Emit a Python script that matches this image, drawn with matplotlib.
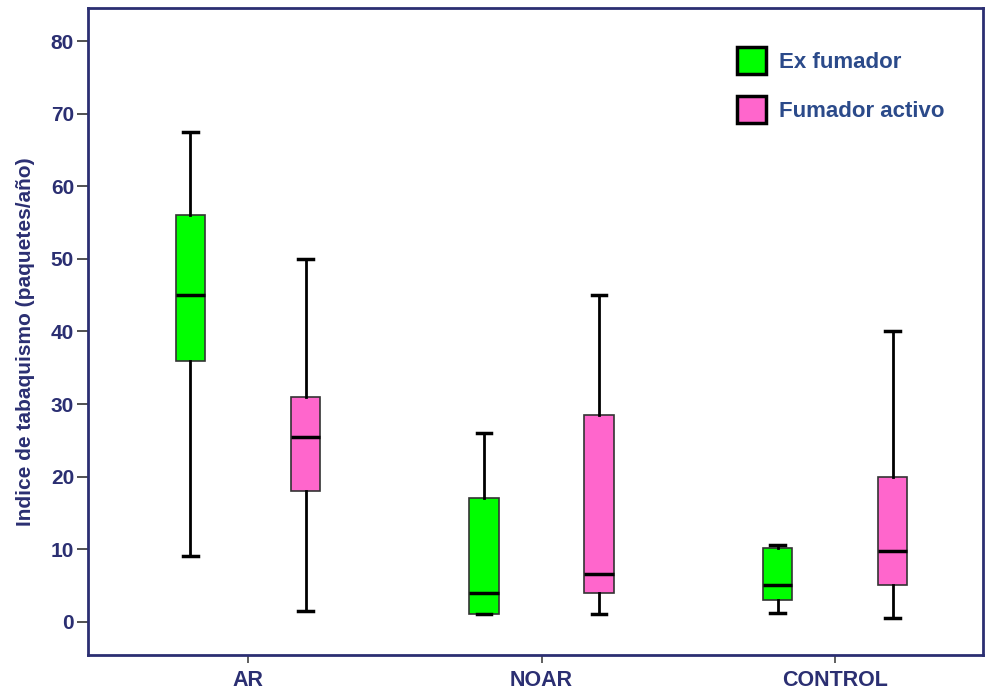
import matplotlib
matplotlib.use("Agg")
import matplotlib.pyplot as plt
from matplotlib.patches import Patch

categories = ["AR", "NOAR", "CONTROL"]
series = ["Ex fumador", "Fumador activo"]
# per category: whislo, q1, med, q3, whishi
ex_whislo = [9.0, 1.0, 1.2]
ex_q1 = [36.0, 1.0, 3.0]
ex_med = [45.0, 4.0, 5.0]
ex_q3 = [56.0, 17.0, 10.2]
ex_whishi = [67.5, 26.0, 10.5]

fa_whislo = [1.5, 1.0, 0.5]
fa_q1 = [18.0, 4.0, 5.0]
fa_med = [25.5, 6.5, 9.8]
fa_q3 = [31.0, 28.5, 20.0]
fa_whishi = [50.0, 45.0, 40.0]

yticks = [0, 10, 20, 30, 40, 50, 60, 70, 80]

navy = "#2B2F72"
colors = ["#00FF00", "#FF66CC"]

plt.rcParams['font.family'] = ['Liberation Sans', 'DejaVu Sans']
plt.rcParams['font.weight'] = 'bold'

fig = plt.figure(figsize=(9.85, 6.91), dpi=100)
ax = fig.add_axes([88/985, 36/691, (983-88)/985, (655-8)/691])

def stats(lo, q1, med, q3, hi):
    return [dict(whislo=a, q1=b, med=c, q3=d, whishi=e, fliers=[])
            for a, b, c, d, e in zip(lo, q1, med, q3, hi)]

offset = 0.196
width = 0.101
for i, (st, col) in enumerate([(stats(ex_whislo, ex_q1, ex_med, ex_q3, ex_whishi), colors[0]),
                               (stats(fa_whislo, fa_q1, fa_med, fa_q3, fa_whishi), colors[1])]):
    pos = [k + (-offset if i == 0 else offset) for k in range(len(categories))]
    ax.bxp(st, positions=pos, widths=width, patch_artist=True, showfliers=False,
           boxprops=dict(facecolor=col, edgecolor="#333333", linewidth=1.2),
           whiskerprops=dict(color="black", linewidth=2),
           capprops=dict(color="black", linewidth=2.5),
           medianprops=dict(color="black", linewidth=2.5),
           capwidths=width * 0.5, manage_ticks=False)

ax.set_xlim(-0.545, 2.504)
ax.set_ylim(-4.6, 84.6)
ax.set_yticks(yticks)
ax.set_yticklabels([str(v) for v in yticks], fontsize=15, color=navy, fontweight='bold')
ax.set_xticks(range(len(categories)))
ax.set_xticklabels(categories, fontsize=15.5, color=navy, fontweight='bold')
ax.tick_params(axis='y', length=8, width=1.2, color="#333333", direction='out', pad=2)
ax.tick_params(axis='x', length=6, width=1.2, color="#444444", direction='out', pad=5)
for s in ax.spines.values():
    s.set_color(navy)
    s.set_linewidth(2)
ax.set_ylabel("Indice de tabaquismo (paquetes/año)", fontsize=15, color=navy,
              fontweight='bold', labelpad=11)
ax.yaxis.label.set_y(0.484)

handles = [Patch(facecolor=colors[0], edgecolor="black", linewidth=2.5),
           Patch(facecolor=colors[1], edgecolor="black", linewidth=2.5)]
leg = ax.legend(handles, series, loc='upper left', bbox_to_anchor=(0.725, 0.94),
                frameon=False, fontsize=16, handlelength=1.3, handleheight=1.5,
                labelspacing=1.0, handletextpad=0.6, borderpad=0, borderaxespad=0)
for t in leg.get_texts():
    t.set_color("#2B4A8A")
    t.set_fontweight('bold')

fig.savefig("out.png", dpi=100)
